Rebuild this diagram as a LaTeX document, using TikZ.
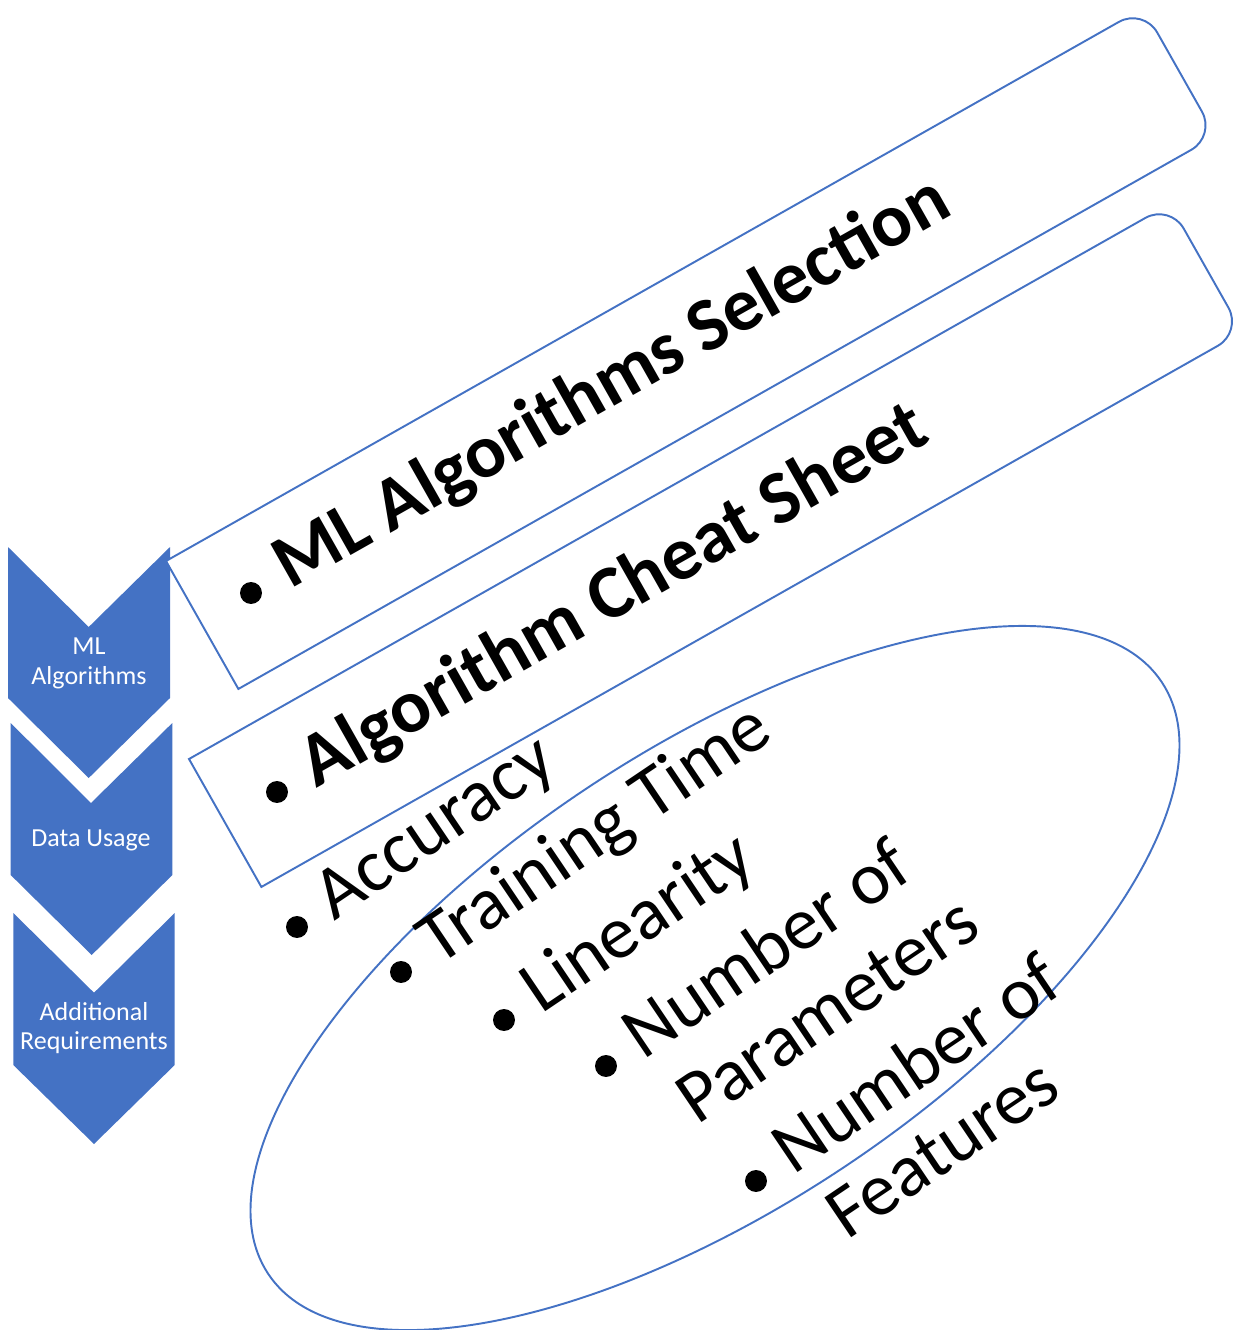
\documentclass[tikz,border=0pt]{standalone}
\usepackage{fontspec}
\setmainfont{Carlito}
\definecolor{officeblue}{HTML}{4472C4}
\begin{document}
\begin{tikzpicture}[x=0.02cm,y=-0.02cm,
  chevron/.style={fill=officeblue, draw=none},
  chevtext/.style={text=white, font=\fontsize{14.8}{17}\selectfont, align=center, inner sep=0pt},
  panel/.style={draw=officeblue, line width=1.1pt, fill=white},
  oval/.style={draw=officeblue, line width=1.1pt},
  heading/.style={font=\fontsize{43}{52}\selectfont\bfseries, anchor=base west, inner sep=0pt, rotate=29.5},
  listitem/.style={font=\fontsize{42.5}{51}\selectfont, anchor=base west, inner sep=0pt, rotate=34},
  bulletdot/.style={circle, fill=black, minimum size=12.5pt, inner sep=0pt}
]
\useasboundingbox (0,0) rectangle (1232,1330);

% chevron column
\fill[chevron] (8,547) -- (88.7,627) -- (170,547) -- (170,698) -- (88.7,778) -- (8,698) -- cycle;
\fill[chevron] (10.7,723) -- (91,803) -- (172.3,723) -- (172.3,875) -- (91.7,955) -- (10.7,875) -- cycle;
\fill[chevron] (13.3,913) -- (94,992.7) -- (174.7,913) -- (174.7,1065) -- (94,1144) -- (13.3,1065) -- cycle;

\node[chevtext] (c1) at (89,663) {ML\\Algorithms};
\node[chevtext] (c2) at (91,840) {Data Usage};
\node[chevtext] (c3) at (94,1028) {Additional\\Requirements};

% tilted panels, rounded on the far end
\begin{scope}[shift={(166,561)}, rotate=29.5]
  \draw[panel] (560,0) -- (0,0) -- (0,147) -- (560,147) [rounded corners=16pt] -- (1123,147) -- (1123,0) -- cycle;
\end{scope}
\begin{scope}[shift={(189,759)}, rotate=29.5]
  \draw[panel] (560,0) -- (0,0) -- (0,147) -- (560,147) [rounded corners=16pt] -- (1127,147) -- (1127,0) -- cycle;
\end{scope}

% tilted oval around the criteria list
\draw[oval, rotate around={33.5:(715,978)}] (715,978) ellipse [x radius=10.72cm, y radius=4.58cm];

% panel headings
\node[bulletdot] (d1) at (251,593) {};
\node[heading] (t1) at (290,590) {ML Algorithms Selection};
\node[bulletdot] (d2) at (277,792) {};
\node[heading] (t2) at (316,789) {Algorithm Cheat Sheet};

% criteria list
\node[bulletdot] (e1) at (297,927) {};
\node[listitem] (i1) at (334,921.5) {Accuracy};
\node[bulletdot] (e2) at (401,972) {};
\node[listitem] (i2) at (438,966.5) {Training Time};
\node[bulletdot] (e3) at (504,1020) {};
\node[listitem] (i3) at (541,1014.5) {Linearity};
\node[bulletdot] (e4) at (606,1066) {};
\node[listitem] (i4a) at (643,1060.5) {Number of};
\node[listitem] (i4b) at (697,1126) {Parameters};
\node[bulletdot] (e5) at (756,1181) {};
\node[listitem] (i5a) at (793,1175.5) {Number of};
\node[listitem] (i5b) at (847,1241) {Features};
\end{tikzpicture}
\end{document}
